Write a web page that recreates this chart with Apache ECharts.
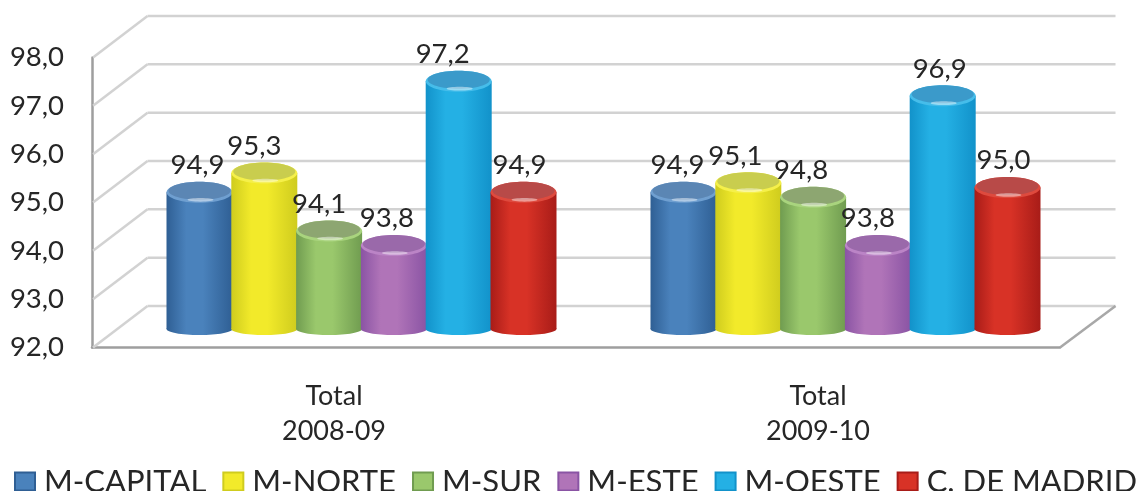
<!DOCTYPE html>
<html><head><meta charset="utf-8">
<style>html,body{margin:0;padding:0;background:#fff}#c{width:1141px;height:491px}</style>
<script src="https://cdn.jsdelivr.net/npm/echarts@6/dist/echarts.min.js"></script>
</head><body><div id="c"></div>
<script>
const categories = ['Total\n2008-09', 'Total\n2009-10'];
const yTicks = [92, 93, 94, 95, 96, 97, 98];
const mCapital = [94.9, 94.9];
const mNorte = [95.3, 95.1];
const mSur = [94.1, 94.8];
const mEste = [93.8, 93.8];
const mOeste = [97.2, 96.9];
const cMadrid = [94.9, 95.0];

const FONT = 'Lato, "Open Sans", sans-serif';
const DEPTH_X = 55.5, DEPTH_Y = -41.5;
const BAR_W = 66, PITCH = 64.8, BAR_DX = 27.5, BAR_DY = -15;
const CAP_RY = 10.5, BASE_RY = 6, BASE_DY = -18.5;

const bars = [
  {name:'M-CAPITAL', values:mCapital, edge:'#2f5f94', mid:'#4a82bc', cap:'#5b86b4', rim:'#6f9fd0', shift:[-2,-6]},
  {name:'M-NORTE', values:mNorte, edge:'#cfcc1e', mid:'#f2ea2a', cap:'#c9cd4e', rim:'#f5f04a', shift:[-10,-13]},
  {name:'M-SUR', values:mSur, edge:'#709c50', mid:'#9ac86c', cap:'#8da671', rim:'#a9d47e', shift:[-10,-12]},
  {name:'M-ESTE', values:mEste, edge:'#8a54a4', mid:'#b074b8', cap:'#9a69aa', rim:'#bb84c6', shift:[-7,-10]},
  {name:'M-OESTE', values:mOeste, edge:'#1292ca', mid:'#24b0e4', cap:'#3b9aca', rim:'#46bdea', shift:[-16,-3]},
  {name:'C. DE MADRID', values:cMadrid, edge:'#a81c18', mid:'#d83226', cap:'#b84a48', rim:'#de4a3e', shift:[-4,-4]}
];

function fmt(v){ return v.toFixed(1).replace('.', ','); }

const wallSeries = {
  type:'custom', name:'wall', silent:true, z:1, clip:false,
  data: yTicks.map(t => [0, t]),
  renderItem(params, api){
    const cs = params.coordSys;
    const y = api.coord([0, api.value(1)])[1];
    const x0 = cs.x, x1 = cs.x + cs.width;
    const st = {stroke:'#d2d2d2', lineWidth:2.5, fill:null};
    const kids = [
      {type:'line', shape:{x1:x0+1, y1:y, x2:x0+DEPTH_X, y2:y+DEPTH_Y}, style:st},
      {type:'line', shape:{x1:x0+DEPTH_X, y1:y+DEPTH_Y, x2:x1+DEPTH_X, y2:y+DEPTH_Y}, style:st}
    ];
    if (api.value(1) === yTicks[0]) {
      kids.push({type:'line', shape:{x1:x1, y1:y, x2:x1+DEPTH_X, y2:y+DEPTH_Y}, style:{stroke:'#a8a8a8', lineWidth:2.5}});
    }
    return {type:'group', children:kids};
  }
};

function barSeries(b, idx){
  return {
    type:'custom', name:b.name, z:3, clip:false,
    itemStyle:{color:b.mid},
    data:b.values.map((v,i)=>[i,v]),
    renderItem(params, api){
      const i = api.value(0), v = api.value(1);
      const c = api.coord([i, v]);
      const base = api.coord([i, yTicks[0]]);
      const cx = c[0] + BAR_DX + (idx-2.5)*PITCH;
      const top = c[1] + BAR_DY;
      const bot = base[1] + BASE_DY;
      const grad = {type:'linear', x:0,y:0,x2:1,y2:0, colorStops:[
        {offset:0,color:b.edge},{offset:0.3,color:b.mid},{offset:0.55,color:b.mid},{offset:1,color:b.edge}]};
      const rx = BAR_W/2, z = 10+idx*3;
      return {type:'group', children:[
        {type:'ellipse', z2:z, shape:{cx, cy:bot, rx, ry:BASE_RY}, style:{fill:grad}},
        {type:'rect', z2:z, shape:{x:cx-rx, y:top, width:BAR_W, height:bot-top}, style:{fill:grad}},
        {type:'ellipse', z2:z+1, shape:{cx, cy:top, rx, ry:CAP_RY}, style:{fill:b.rim}},
        {type:'ellipse', z2:z+1, shape:{cx, cy:top-1.5, rx:rx-2, ry:CAP_RY-1.5}, style:{fill:b.cap}},
        {type:'ellipse', z2:z+2, shape:{cx:cx+1, cy:top+CAP_RY-3, rx:13, ry:1.8}, style:{fill:'rgba(255,255,255,0.45)'}},
        {type:'text', z2:100, style:{
          text:fmt(v), x:cx+b.shift[i===0?0:1], y:top-27, align:'center', verticalAlign:'middle',
          font:'27.5px '+FONT, fill:'#262626'}}
      ]};
    }
  };
}

const chart = echarts.init(document.getElementById('c'), null, {renderer:'canvas'});
chart.setOption({
  animation:false, backgroundColor:'#fff',
  grid:{left:92, top:57.5, width:968, height:290, containLabel:false},
  xAxis:{type:'category', data:categories, axisTick:{show:false},
    axisLine:{lineStyle:{color:'#9e9e9e', width:2.5}},
    axisLabel:{color:'#262626', fontFamily:FONT, fontSize:27, lineHeight:35, margin:31, interval:0}},
  yAxis:{type:'value', min:92, max:98, interval:1, splitLine:{show:false}, axisTick:{show:false},
    axisLine:{show:true, lineStyle:{color:'#9e9e9e', width:2.5}},
    axisLabel:{color:'#262626', fontFamily:FONT, fontSize:27.5, margin:28, formatter:fmt}},
  legend:{left:9, top:461, width:1132, itemGap:16, itemWidth:20, itemHeight:18, icon:'rect', selectedMode:false,
    textStyle:{color:'#262626', fontFamily:FONT, fontSize:31, padding:[0,0,0,4]},
    data:bars.map(b=>({name:b.name, itemStyle:{color:b.mid, borderColor:b.edge, borderWidth:2}}))},
  series:[wallSeries].concat(bars.map(barSeries))
});
</script></body></html>
